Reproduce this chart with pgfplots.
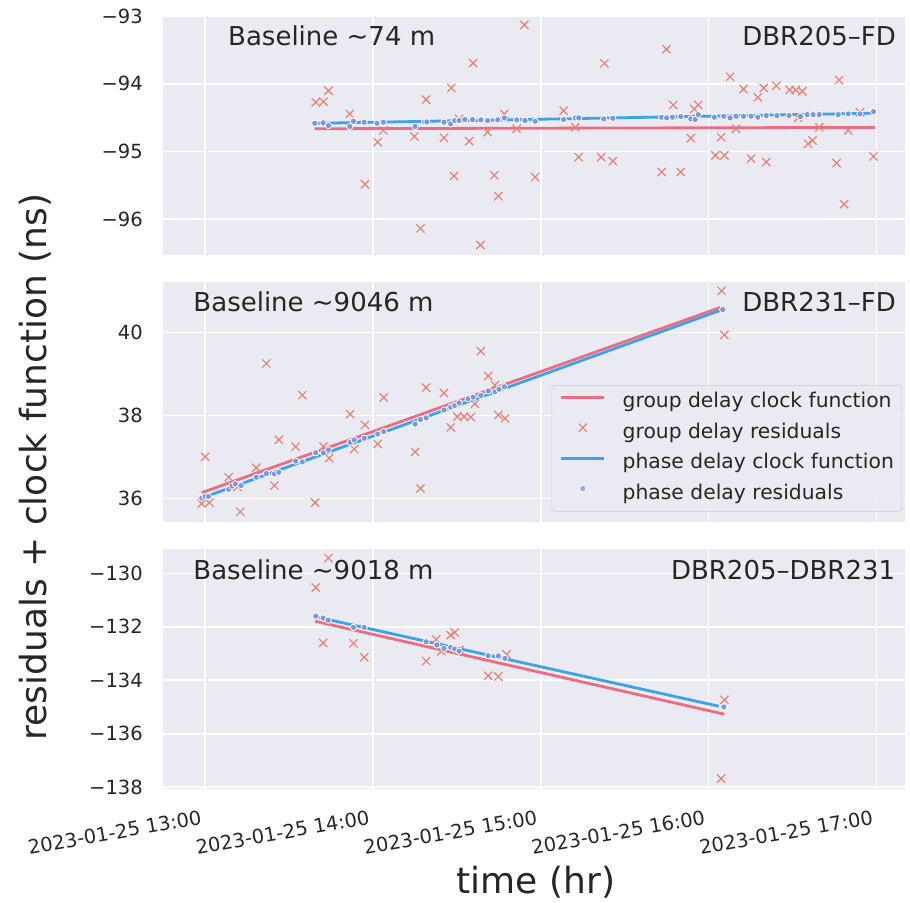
\documentclass[border=0pt]{standalone}
\usepackage{fontspec}
\setmainfont{DejaVu Sans}
\usepackage{pgfplots}
\pgfplotsset{compat=1.18}
\definecolor{bgc}{HTML}{EAEAF2}
\definecolor{txt}{HTML}{262626}
\definecolor{gline}{HTML}{EF6B80}
\definecolor{gmark}{HTML}{EA806F}
\definecolor{pline}{HTML}{3BA3EC}
\definecolor{pmark}{HTML}{7A96EB}
\newcommand{\fs}[1]{\fontsize{#1}{#1}\selectfont}
\tikzset{lbl/.style={font=\fs{26}, text=txt, inner sep=0pt}}
\pgfplotsset{
  panel/.style={
    scale only axis, width=742pt, height=240pt,
    xmin=12.749, xmax=17.17,
    axis background/.style={fill=bgc},
    axis line style={draw=none},
    tick style={draw=none},
    major tick length=0pt,
    grid=major,
    major grid style={white, line width=1.7pt},
    xtick={13,14,15,16,17},
    xticklabels={},
    yticklabel style={font=\fs{19.5}, text=txt, inner sep=0pt, anchor=east, xshift=-20pt},
  },
  gl/.style={gline, line width=2.8pt, no marks,
    legend image code/.code={\draw[##1] (0pt,5.5pt) -- (43pt,5.5pt);}},
  pl/.style={pline, line width=2.8pt, no marks,
    legend image code/.code={\draw[##1] (0pt,5.5pt) -- (43pt,5.5pt);}},
  gx/.style={gmark, only marks, mark=x, mark size=5.8pt, line width=1.2pt,
    legend image code/.code={\draw[##1] plot coordinates {(21.5pt,5.5pt)};}},
  pd/.style={only marks, mark=*, mark size=3.2pt, mark options={fill=pmark, draw=white, line width=0.8pt},
    legend image code/.code={\draw[##1] plot coordinates {(21.5pt,5.5pt)};}},
}
\begin{document}
\begin{tikzpicture}[x=1pt,y=1pt]
\useasboundingbox (0,0) rectangle (910,-902);
% ---------------- top panel ----------------
\begin{axis}[panel, at={(163pt,-15pt)}, anchor=north west,
  ymin=-96.53, ymax=-92.985,
  ytick={-96,-95,-94,-93}, yticklabels={−96,−95,−94,−93}]
\addplot[gl] coordinates {(13.653,-94.665) (16.99,-94.645)};
\addplot[gx] coordinates {
(13.659,-94.275) (13.705,-94.265) (13.735,-94.103) (13.862,-94.446) (13.952,-95.485)
(14.028,-94.863) (14.062,-94.691) (14.247,-94.779) (14.283,-96.137) (14.317,-94.235)
(14.423,-94.799) (14.467,-94.063) (14.483,-95.363) (14.513,-94.519) (14.573,-94.849)
(14.597,-93.696) (14.641,-96.382) (14.683,-94.716) (14.723,-95.353) (14.747,-95.662)
(14.783,-94.446) (14.856,-94.666) (14.902,-93.132) (14.966,-95.378) (15.136,-94.397)
(15.205,-94.643) (15.226,-95.084) (15.359,-95.084) (15.379,-93.701) (15.429,-95.143)
(15.720,-95.304) (15.749,-93.490) (15.789,-94.313) (15.834,-95.304) (15.894,-94.804)
(15.914,-94.372) (15.938,-94.313) (16.040,-95.059) (16.074,-94.790) (16.094,-95.059)
(16.128,-93.897) (16.163,-94.666) (16.208,-94.078) (16.253,-95.107) (16.293,-94.201)
(16.328,-94.063) (16.343,-95.157) (16.403,-94.029) (16.483,-94.093) (16.519,-94.093)
(16.533,-94.504) (16.559,-94.113) (16.593,-94.887) (16.619,-94.838) (16.659,-94.643)
(16.762,-95.172) (16.777,-93.946) (16.807,-95.779) (16.832,-94.691) (16.902,-94.422)
(16.982,-95.074)};
\addplot[pl] coordinates {(13.653,-94.585) (16.99,-94.435)};
\addplot[pd] coordinates {
(13.653,-94.584) (13.703,-94.578) (13.735,-94.618) (13.862,-94.632) (13.884,-94.554)
(13.948,-94.569) (14.024,-94.584) (14.062,-94.569) (14.251,-94.632) (14.307,-94.564)
(14.321,-94.564) (14.423,-94.569) (14.463,-94.593) (14.487,-94.544) (14.513,-94.544)
(14.547,-94.529) (14.593,-94.529) (14.643,-94.534) (14.683,-94.544) (14.743,-94.534)
(14.783,-94.505) (14.856,-94.534) (14.906,-94.544) (14.966,-94.554) (15.136,-94.529)
(15.205,-94.505) (15.226,-94.505) (15.375,-94.520) (15.429,-94.510) (15.720,-94.495)
(15.750,-94.505) (15.784,-94.495) (15.834,-94.485) (15.894,-94.520) (15.920,-94.529)
(15.938,-94.456) (16.034,-94.495) (16.090,-94.480) (16.128,-94.505) (16.163,-94.480)
(16.208,-94.480) (16.253,-94.480) (16.293,-94.495) (16.343,-94.471) (16.407,-94.471)
(16.479,-94.471) (16.547,-94.485) (16.587,-94.456) (16.623,-94.456) (16.659,-94.456)
(16.772,-94.456) (16.832,-94.446) (16.902,-94.446) (16.982,-94.412)};
\node[lbl, anchor=base west] at (rel axis cs:0.0876,0.871) {Baseline \textasciitilde74 m};
\node[lbl, anchor=base east] at (rel axis cs:0.988,0.875) {DBR205–FD};
\end{axis}
% ---------------- middle panel ----------------
\begin{axis}[panel, at={(163pt,-281.7pt)}, anchor=north west,
  ymin=35.44, ymax=41.22,
  ytick={36,38,40}, yticklabels={36,38,40},
  legend style={at={(0.996,0.042)}, anchor=south east, font=\fs{20.3}, text=txt,
    draw=black!20, fill=bgc, fill opacity=0.8, text opacity=1, rounded corners=3pt,
    inner xsep=8pt, inner ysep=7.5pt, row sep=11pt, column sep=17pt,
    nodes={inner sep=0pt, text height=15pt, text depth=4.5pt}},
  legend cell align=left]
\addplot[gl] coordinates {(12.98,36.14) (16.07,40.60)};
\addlegendentry{group delay clock function}
\addplot[gx] coordinates {
(13.000,37.00) (12.980,35.88) (13.026,35.90) (13.140,36.51) (13.193,36.28)
(13.210,35.68) (13.305,36.74) (13.365,39.25) (13.413,36.31) (13.439,37.41)
(13.539,37.25) (13.579,38.49) (13.655,35.90) (13.705,37.25) (13.739,36.97)
(13.864,38.03) (13.888,37.19) (13.952,37.77) (14.028,37.31) (14.064,38.43)
(14.251,37.12) (14.283,36.24) (14.317,38.67) (14.423,38.54) (14.463,37.71)
(14.503,37.97) (14.543,37.97) (14.583,37.96) (14.607,38.28) (14.643,39.55)
(14.687,38.95) (14.727,38.73) (14.747,38.01) (14.787,37.93)
(16.078,41.00) (16.094,39.94)};
\addlegendentry{group delay residuals}
\addplot[pl] coordinates {(12.98,36.01) (16.07,40.53)};
\addlegendentry{phase delay clock function}
\addplot[pd] coordinates {
(12.980,36.01) (13.000,36.05) (13.020,36.05) (13.140,36.22) (13.160,36.30)
(13.180,36.35) (13.214,36.31) (13.305,36.51) (13.365,36.60) (13.413,36.59)
(13.439,36.63) (13.539,36.90) (13.579,36.88) (13.659,37.10) (13.705,37.10)
(13.735,37.17) (13.864,37.35) (13.888,37.41) (13.948,37.45) (14.028,37.55)
(14.064,37.61) (14.251,37.79) (14.283,37.90) (14.317,37.94) (14.423,38.13)
(14.463,38.20) (14.487,38.24) (14.513,38.30) (14.567,38.40) (14.597,38.44)
(14.643,38.48) (14.687,38.59) (14.727,38.57) (14.751,38.63) (14.783,38.69)
(16.084,40.55)};
\addlegendentry{phase delay residuals}
\node[lbl, anchor=base west] at (rel axis cs:0.0408,0.875) {Baseline \textasciitilde9046 m};
\node[lbl, anchor=base east] at (rel axis cs:0.988,0.875) {DBR231–FD};
\end{axis}
% ---------------- bottom panel ----------------
\begin{axis}[panel, at={(163pt,-548.5pt)}, anchor=north west,
  ymin=-138.05, ymax=-129.07,
  ytick={-138,-136,-134,-132,-130}, yticklabels={−138,−136,−134,−132,−130},
  xticklabels={2023-01-25 13:00,2023-01-25 14:00,2023-01-25 15:00,2023-01-25 16:00,2023-01-25 17:00},
  xticklabel style={font=\fs{19.5}, text=txt, inner sep=0pt, xshift=-5pt, yshift=-21pt, rotate=10, anchor=north east}]
\addplot[gl] coordinates {(13.655,-131.79) (16.094,-135.27)};
\addplot[gx] coordinates {
(13.735,-129.43) (13.659,-130.53) (13.703,-132.60) (13.884,-132.62) (13.948,-133.14)
(14.317,-133.28) (14.377,-132.47) (14.407,-132.91) (14.463,-132.31) (14.487,-132.21)
(14.517,-132.87) (14.687,-133.83) (14.747,-133.86) (14.796,-133.03)
(16.094,-134.73) (16.074,-137.68)};
\addplot[pl] coordinates {(13.655,-131.62) (16.06,-134.97)};
\addplot[pd] coordinates {
(13.659,-131.60) (13.703,-131.67) (13.733,-131.75) (13.884,-132.02) (13.948,-132.02)
(14.317,-132.56) (14.381,-132.68) (14.423,-132.81) (14.463,-132.77) (14.487,-132.83)
(14.513,-132.91) (14.687,-133.08) (14.747,-133.09) (14.787,-133.18) (16.090,-135.00)};
\node[lbl, anchor=base west] at (rel axis cs:0.0408,0.872) {Baseline \textasciitilde9018 m};
\node[lbl, anchor=base east] at (rel axis cs:0.987,0.872) {DBR205–DBR231};
\end{axis}
\node[rotate=90, anchor=base, font=\fs{36}, text=txt, inner sep=0pt] at (46,-467) {residuals + clock function (ns)};
\node[anchor=base, font=\fs{36}, text=txt, inner sep=0pt] at (536,-893) {time (hr)};
\end{tikzpicture}
\end{document}
